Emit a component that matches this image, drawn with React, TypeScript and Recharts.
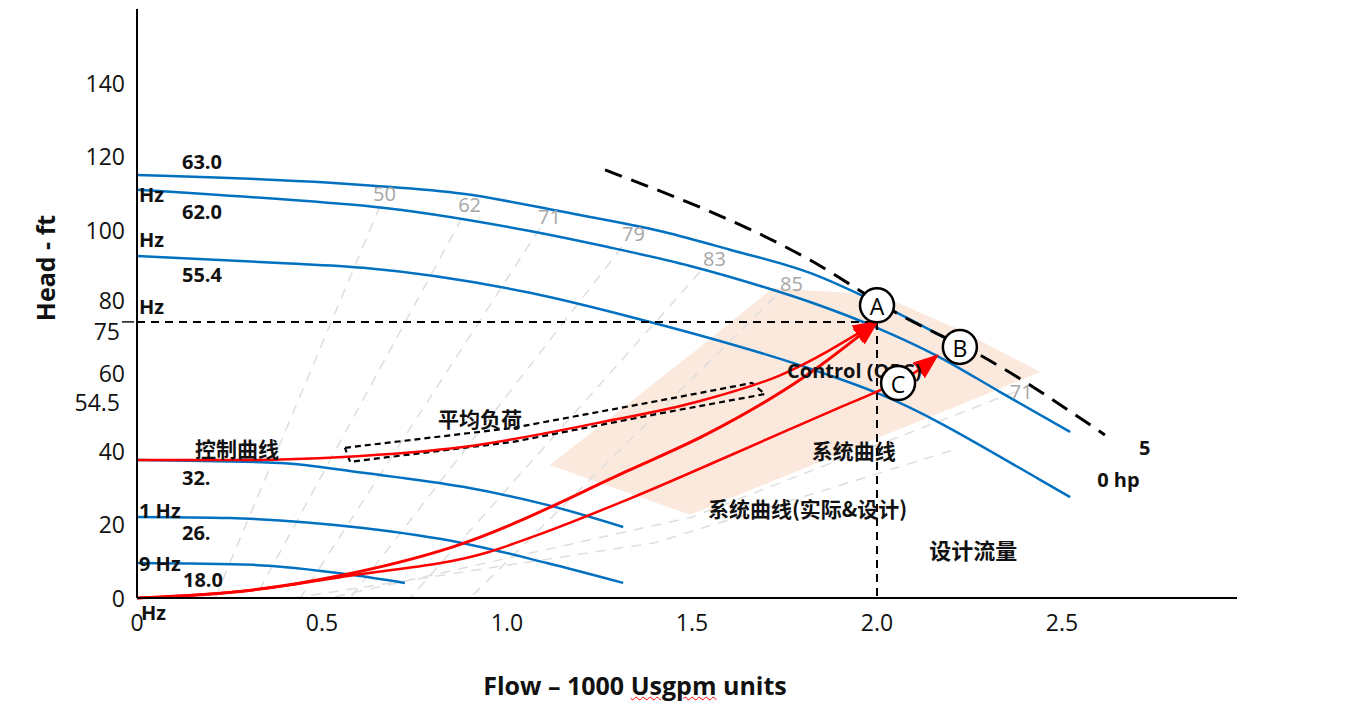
import { Area, ComposedChart, Line, Scatter, XAxis, YAxis } from "recharts";

// flow in 1000 Usgpm, head in ft
const flowTicks = [0, 0.5, 1, 1.5, 2, 2.5];
const headTicks = [0, 20, 40, 54.5, 60, 75, 80, 100, 120, 140];

// pump curves at each drive speed
const hz630 = [[0, 114.9], [0.522, 112.8], [0.638, 112.0], [0.881, 109.8], [1.151, 104.9], [1.422, 99.5], [1.603, 94.6], [1.819, 88.3], [2.0, 80.2], [2.178, 70.9], [2.238, 67.4]];
const hz620 = [[0, 110.9], [0.522, 107.3], [0.638, 106.3], [1.062, 99.7], [1.27, 95.4], [1.495, 90.2], [1.703, 84.2], [1.819, 80.4], [2.0, 73.4], [2.162, 65.8], [2.332, 56.0], [2.522, 45.1]];
const hz554 = [[0, 92.9], [0.386, 91.0], [0.611, 89.7], [1.062, 82.9], [1.332, 76.4], [1.854, 61.1], [2.0, 55.7], [2.441, 32.1], [2.522, 27.4]];
const hz321 = [[0, 37.5], [0.386, 36.7], [0.611, 34.0], [0.881, 30.2], [1.108, 25.3], [1.314, 19.3]];
const hz269 = [[0, 22.0], [0.251, 21.7], [0.611, 19.0], [0.881, 14.9], [1.108, 9.5], [1.314, 4.1]];
const hz180 = [[0, 9.5], [0.314, 9.0], [0.584, 6.25], [0.724, 4.1]];

// efficiency lines (%)
const effLines = [
  [[0.657, 106.5], [0.211, 0]],
  [[0.878, 103.2], [0.319, 0]],
  [[1.089, 100.5], [0.441, 0]],
  [[1.311, 95.4], [0.576, 0]],
  [[1.522, 88.6], [0.738, 0]],
  [[1.724, 81.8], [0.9, 0]],
  [[2.373, 56.0], [1.5, 22.0], [0.52, 0]],
  [[2.2, 40.0], [1.4, 15.0], [0.42, 0]],
];
// 85% band: [flow, low head, high head]
const bestBand = [[1.116, 36.1, 36.1], [1.495, 22.6, 66.0], [1.719, 31.8, 84.2], [2.008, 43.75, 82.3], [2.224, 52.4, 72.8], [2.441, 61.4, 61.4]];

// 50 hp limit
const hpLimit = [[1.265, 116.3], [1.819, 91.8], [2.062, 76.9], [2.278, 66.0], [2.616, 44.3]];

// design point
const designFlow = 2.0;
const designHead = 75;

// control and system curves
const controlCurve = [[0, 37.5], [0.3, 37.5], [0.557, 38.3], [0.881, 41.0], [1.243, 47.5], [1.514, 53.3], [1.738, 60.5], [2.0, 75]];
const systemDesign = [[0, 0], [0.314, 2.2], [0.557, 6.25], [0.854, 13.9], [1.332, 34.8], [1.54, 44.5], [1.81, 60.5], [2.0, 75]];
const systemActual = [[0, 0], [0.314, 2.2], [0.57, 6.0], [0.951, 12.5], [1.08, 17.0], [1.332, 27.0], [1.632, 40.0], [1.903, 51.9], [1.992, 55.7], [2.1, 61.1], [2.162, 65.8]];
// average load band around the control curve
const avgLoadBox = [[0.562, 40.8], [1.016, 46.2], [1.422, 53.8], [1.662, 58.4], [1.697, 55.4], [1.422, 50.3], [1.016, 42.4], [0.576, 37.0], [0.562, 40.8]];

const points = [
  { x: 2.0, y: 79.5, name: "A" },
  { x: 2.224, y: 68.2, name: "B" },
  { x: 2.057, y: 58.4, name: "C" },
];

// annotation anchors (left edge, middle) in chart units
const notes = [
  { x: 0.1216, y: 118.7, text: "63.0", kind: "speed" },
  { x: 0.0054, y: 109.5, text: "Hz", kind: "speed" },
  { x: 0.1216, y: 105.1, text: "62.0", kind: "speed" },
  { x: 0.0054, y: 97.3, text: "Hz", kind: "speed" },
  { x: 0.1216, y: 88.0, text: "55.4", kind: "speed" },
  { x: 0.0054, y: 79.3, text: "Hz", kind: "speed" },
  { x: 0.1216, y: 32.6, text: "32.", kind: "speed" },
  { x: 0.0054, y: 23.9, text: "1 Hz", kind: "speed" },
  { x: 0.1216, y: 17.7, text: "26.", kind: "speed" },
  { x: 0.0054, y: 9.5, text: "9 Hz", kind: "speed" },
  { x: 0.1243, y: 4.9, text: "18.0", kind: "speed" },
  { x: 0.638, y: 109.8, text: "50", kind: "eff" },
  { x: 0.868, y: 106.8, text: "62", kind: "eff" },
  { x: 1.084, y: 103.5, text: "71", kind: "eff" },
  { x: 1.311, y: 98.9, text: "79", kind: "eff" },
  { x: 1.53, y: 92.1, text: "83", kind: "eff" },
  { x: 1.738, y: 85.3, text: "85", kind: "eff" },
  { x: 2.359, y: 56.2, text: "71", kind: "eff" },
  { x: 0.1568, y: 40.75, text: "控制曲线", kind: "cn" },
  { x: 0.8135, y: 48.9, text: "平均负荷", kind: "cn" },
  { x: 1.757, y: 61.9, text: "Control (OPC)", kind: "speed" },
  { x: 1.824, y: 40.2, text: "系统曲线", kind: "cn" },
  { x: 1.543, y: 24.45, text: "系统曲线(实际&设计)", kind: "cn" },
  { x: 2.141, y: 13.3, text: "设计流量", kind: "cnBig" },
  { x: 2.708, y: 40.75, text: "5", kind: "speed" },
  { x: 2.595, y: 32.1, text: "0 hp", kind: "speed" },
];

const pts = (a: number[][]) => a.map(([x, y]) => ({ x, y }));

const BLUE = "#0070c0";
const RED = "#ff0000";
const CJK = '"Noto Sans CJK SC", sans-serif';

const noteStyle: Record<string, any> = {
  speed: { fontSize: 20, fontWeight: 700, fill: "#111" },
  eff: { fontSize: 20, fontWeight: 400, fill: "#a6a6a6" },
  cn: { fontSize: 21, fontWeight: 700, fill: "#111", fontFamily: CJK },
  cnBig: { fontSize: 22, fontWeight: 700, fill: "#111", fontFamily: CJK },
};

// the source nudges a few tick labels off their grid position
const tickNudge: Record<number, [number, number]> = { 75: [-5, 9], 80: [0, -4], 60: [0, -4], 54.5: [-5, 5] };

const FlowTick = ({ x, y, payload }: any) => (
  <text x={x} y={y + 24} textAnchor="middle" dominantBaseline="central" fontSize={23} fill="#111">
    {payload.value === 0 ? "0" : payload.value.toFixed(1)}
  </text>
);

const HeadTick = ({ x, y, payload }: any) => {
  const [dx, dy] = tickNudge[payload.value] || [0, 0];
  return (
    <g>
      <text x={x - 12 + dx} y={y + dy} textAnchor="end" dominantBaseline="central" fontSize={23} fill="#111">
        {payload.value}
      </text>
      {payload.value === 75 && <line x1={x - 15} x2={x - 3} y1={y} y2={y} stroke="#111" strokeWidth={1.5} />}
    </g>
  );
};

const NoteShape = (p: any) => (
  <text x={p.cx} y={p.cy} dominantBaseline="central" {...noteStyle[p.payload.kind]}>
    {p.payload.text}
  </text>
);

const PointShape = (p: any) => (
  <g>
    <circle cx={p.cx} cy={p.cy} r={17} fill="#fff" stroke="#000" strokeWidth={2.5} />
    <text x={p.cx} y={p.cy + 1} textAnchor="middle" dominantBaseline="central" fontSize={23} fill="#000">
      {p.payload.name}
    </text>
  </g>
);

export default function App() {
  const band = bestBand.map(([x, lo, hi]) => ({ x, range: [lo, hi] }));
  return (
    <div style={{ position: "relative", width: 1300, height: 700, fontFamily: '"Open Sans", "Noto Sans CJK SC", sans-serif' }}>
      <svg width={0} height={0} style={{ position: "absolute" }}>
        <defs>
          <marker id="redArrow" viewBox="0 0 10 10" refX="9" refY="5" markerWidth="26" markerHeight="20"
            markerUnits="userSpaceOnUse" orient="auto" preserveAspectRatio="none">
            <path d="M0,0 L10,5 L0,10 z" fill={RED} />
          </marker>
        </defs>
      </svg>
      <ComposedChart width={1300} height={640} margin={{ top: 1, right: 71, bottom: 0, left: 0 }}>
        <XAxis type="number" dataKey="x" domain={[0, 2.973]} ticks={flowTicks} tick={<FlowTick />}
          tickSize={0} tickMargin={0} height={50} axisLine={{ stroke: "#000", strokeWidth: 2 }} />
        <YAxis type="number" dataKey="y" domain={[0, 160]} ticks={headTicks} tick={<HeadTick />}
          tickSize={0} tickMargin={0} width={129} interval={0} axisLine={{ stroke: "#000", strokeWidth: 2 }} />

        <Area data={band} dataKey="range" type="linear" fill="#fce9de" fillOpacity={1} stroke="none" isAnimationActive={false} />

        {effLines.map((l, i) => (
          <Line key={"e" + i} data={pts(l)} dataKey="y" type="linear" stroke="#dedede" strokeWidth={1.5}
            strokeDasharray="10 8" dot={false} isAnimationActive={false} />
        ))}

        {[hz630, hz620, hz554, hz321, hz269, hz180].map((c, i) => (
          <Line key={"hz" + i} data={pts(c)} dataKey="y" type="monotone" stroke={BLUE} strokeWidth={2.5}
            dot={false} isAnimationActive={false} />
        ))}

        <Line data={pts(hpLimit)} dataKey="y" type="monotone" stroke="#000" strokeWidth={3} strokeDasharray="18 10"
          dot={false} isAnimationActive={false} />
        <Line data={pts([[0, designHead], [designFlow, designHead]])} dataKey="y" type="linear" stroke="#000"
          strokeWidth={2} strokeDasharray="8 6" dot={false} isAnimationActive={false} />
        <Line data={pts([[designFlow, designHead], [designFlow, 0]])} dataKey="y" type="linear" stroke="#000"
          strokeWidth={2} strokeDasharray="8 6" dot={false} isAnimationActive={false} />
        <Line data={pts(avgLoadBox)} dataKey="y" type="linear" stroke="#000" strokeWidth={2.2} strokeDasharray="6 4"
          dot={false} isAnimationActive={false} />

        <Line data={pts(controlCurve)} dataKey="y" type="monotone" stroke={RED} strokeWidth={2.5} markerEnd="url(#redArrow)"
          dot={false} isAnimationActive={false} />
        <Line data={pts(systemDesign)} dataKey="y" type="monotone" stroke={RED} strokeWidth={3} markerEnd="url(#redArrow)"
          dot={false} isAnimationActive={false} />
        <Line data={pts(systemActual)} dataKey="y" type="monotone" stroke={RED} strokeWidth={2.5} markerEnd="url(#redArrow)"
          dot={false} isAnimationActive={false} />

        <Scatter data={notes} dataKey="y" shape={NoteShape} isAnimationActive={false} />
        <Scatter data={points} dataKey="y" shape={PointShape} isAnimationActive={false} />
      </ComposedChart>

      <div style={{ position: "absolute", left: 37, top: 260, transform: "translate(-50%, -50%) rotate(-90deg)",
        whiteSpace: "nowrap", fontSize: 25, fontWeight: 700, color: "#111" }}>
        Head - ft
      </div>
      <div style={{ position: "absolute", left: 627, top: 677, transform: "translate(-50%, -50%)",
        whiteSpace: "nowrap", fontSize: 25, fontWeight: 700, color: "#111" }}>
        Flow – 1000 <span style={{ textDecoration: "underline wavy red", textDecorationThickness: 1 }}>Usgpm</span> units
      </div>
      <div style={{ position: "absolute", left: 133, top: 604, transform: "translateY(-50%)",
        fontSize: 20, fontWeight: 700, color: "#111" }}>
        Hz
      </div>
    </div>
  );
}
